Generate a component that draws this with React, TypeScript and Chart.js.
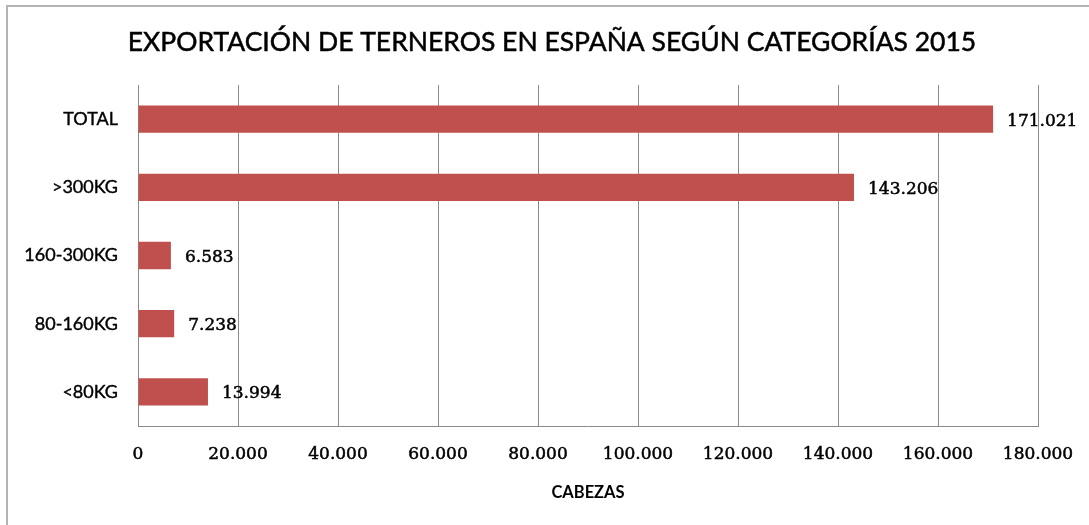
import React, { useEffect, useRef } from "react";
import { Chart, registerables } from "chart.js";

Chart.register(...registerables);

const TITLE = "EXPORTACIÓN DE TERNEROS EN ESPAÑA SEGÚN CATEGORÍAS 2015";
const X_TITLE = "CABEZAS";
const categories = ["TOTAL", ">300KG", "160-300KG", "80-160KG", "<80KG"];
const values = [171021, 143206, 6583, 7238, 13994];
const xMin = 0;
const xMax = 180000;
const xStep = 20000;

const fmt = (v: number) => {
  const s = Math.round(v).toString();
  return s.replace(/\B(?=(\d{3})+(?!\d))/g, ".");
};

const SERIF = "'DejaVu Serif', serif";
const SANS = "Lato, 'Open Sans', sans-serif";

const titlePlugin = {
  id: "customTitle",
  afterDraw(chart: any) {
    const ctx = chart.ctx;
    ctx.save();
    ctx.font = `26.5px ${SANS}`;
    ctx.fillStyle = "#000";
    ctx.strokeStyle = "#000";
    ctx.lineWidth = 0.5;
    ctx.textAlign = "center";
    ctx.textBaseline = "alphabetic";
    ctx.fillText(TITLE, 552, 51);
    ctx.strokeText(TITLE, 552, 51);
    ctx.restore();
  },
};

const valueLabels = {
  id: "valueLabels",
  afterDatasetsDraw(chart: any) {
    const ctx = chart.ctx;
    const meta = chart.getDatasetMeta(0);
    ctx.save();
    ctx.font = `17px ${SERIF}`;
    ctx.fillStyle = "#000";
    ctx.strokeStyle = "#000";
    ctx.lineWidth = 0.5;
    ctx.textAlign = "left";
    ctx.textBaseline = "middle";
    meta.data.forEach((bar: any, i: number) => {
      const t = fmt(values[i]);
      ctx.fillText(t, bar.x + 14, bar.y + 2);
      ctx.strokeText(t, bar.x + 14, bar.y + 2);
    });
    ctx.restore();
  },
};

export default function App() {
  const ref = useRef<HTMLCanvasElement>(null);
  useEffect(() => {
    if (!ref.current) return;
    const chart = new Chart(ref.current, {
      type: "bar",
      data: {
        labels: categories,
        datasets: [
          {
            data: values,
            backgroundColor: "#C0504D",
            borderWidth: 0,
            barPercentage: 0.4,
            categoryPercentage: 1,
          },
        ],
      },
      options: {
        indexAxis: "y",
        responsive: false,
        animation: false,
        layout: { padding: { left: 0, right: 51, top: 85, bottom: 0 } },
        plugins: {
          legend: { display: false },
          tooltip: { enabled: false },
          title: { display: false },
        },
        scales: {
          x: {
            min: xMin,
            max: xMax,
            ticks: {
              stepSize: xStep,
              color: "#000",
              font: { family: SERIF, size: 17 },
              textStrokeColor: "#000",
              textStrokeWidth: 0.5,
              padding: 3,
              callback: (v: any) => fmt(Number(v)),
            },
            grid: {
              color: "#8a8a8a",
              lineWidth: 1,
              drawTicks: true,
              tickLength: 15,
              tickColor: "rgba(0,0,0,0)",
            },
            border: { display: true, color: "#8a8a8a" },
            title: {
              display: true,
              text: X_TITLE,
              color: "#000",
              font: { family: SANS, size: 16.5, weight: "bold", lineHeight: 1.2 },
              padding: { top: 0, bottom: 22 },
            },
            afterFit: (scale: any) => {
              scale.height = 99;
            },
          },
          y: {
            ticks: {
              color: "#000",
              font: { family: SANS, size: 18 },
              textStrokeColor: "#000",
              textStrokeWidth: 0.4,
              padding: 20,
            },
            grid: { display: false, drawTicks: false },
            border: { display: false },
            afterFit: (scale: any) => {
              scale.width = 138;
            },
          },
        },
      },
      plugins: [valueLabels, titlePlugin],
    });
    return () => chart.destroy();
  }, []);
  return (
    <div style={{ position: "absolute", left: 0, top: 0, width: 1089, height: 525, background: "#fff", overflow: "hidden" }}>
      <div
        style={{
          position: "absolute",
          left: 6,
          top: 5,
          width: 1200,
          height: 700,
          borderLeft: "2px solid #b4b4b4",
          borderTop: "2px solid #b4b4b4",
        }}
      />
      <canvas ref={ref} width={1089} height={525} style={{ position: "absolute", left: 0, top: 0 }} />
    </div>
  );
}
